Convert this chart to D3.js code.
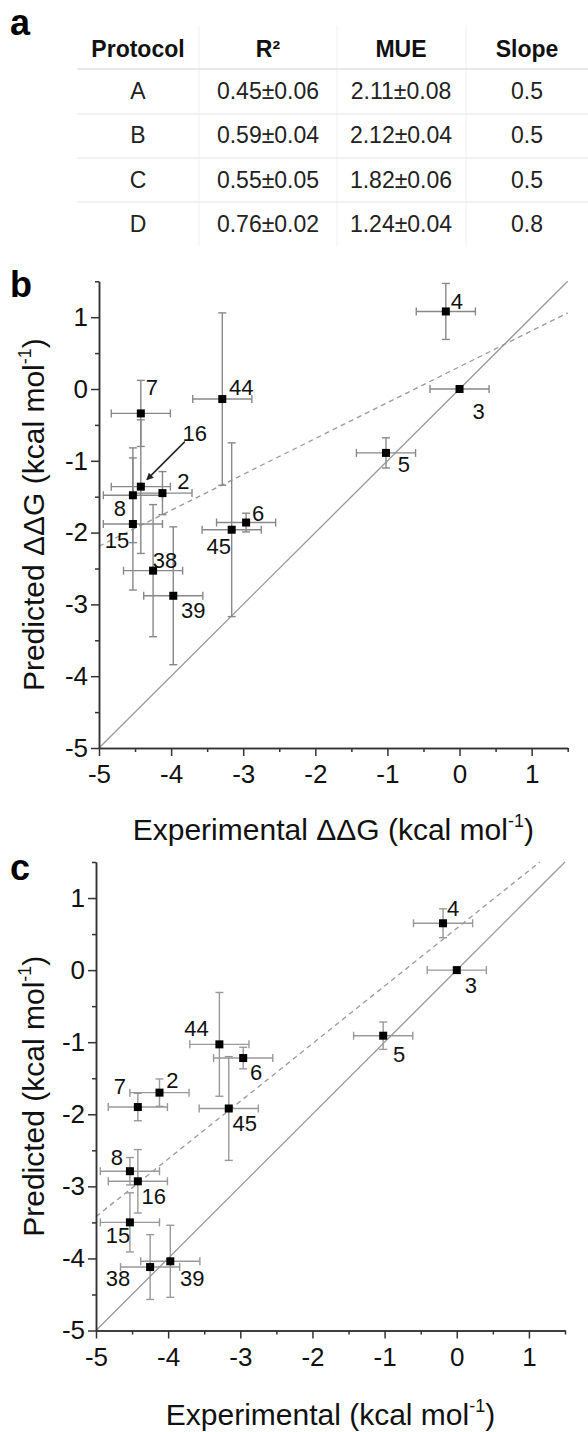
<!DOCTYPE html>
<html>
<head>
<meta charset="utf-8">
<script src="https://cdn.jsdelivr.net/npm/d3@7"></script>
<style>
body { margin: 0; background: #fff; }
svg { display: block; font-family: "Liberation Sans", Arial, sans-serif; }
</style>
</head>
<body>
<svg id="fig"></svg>
<script>
// panel a table
var tableHeaders = ["Protocol", "R²", "MUE", "Slope"];
var protocols = ["A", "B", "C", "D"];
var r2Values = ["0.45±0.06", "0.59±0.04", "0.55±0.05", "0.76±0.02"];
var mueValues = ["2.11±0.08", "2.12±0.04", "1.82±0.06", "1.24±0.04"];
var slopeValues = ["0.5", "0.5", "0.5", "0.8"];

// compounds and experimental ddG (shared by b and c)
var compounds = ["2", "3", "4", "5", "6", "7", "8", "15", "16", "38", "39", "44", "45"];
var expValues = [-4.12, 0.00, -0.19, -1.02, -2.96, -4.42, -4.53, -4.53, -4.42, -4.25, -3.97, -3.29, -3.16];
var expErrors = [0.41, 0.41, 0.41, 0.41, 0.41, 0.41, 0.41, 0.41, 0.41, 0.41, 0.41, 0.41, 0.41];

// predicted, panel b
var predB = [-1.45, 0.00, 1.08, -0.89, -1.86, -0.34, -1.48, -1.88, -1.36, -2.53, -2.88, -0.14, -1.96];
var predBErrors = [0.30, 0, 0.39, 0.21, 0.13, 0.46, 0.66, 0.92, 0.93, 0.92, 0.96, 1.20, 1.21];

// predicted, panel c
var predC = [-1.70, 0.00, 0.65, -0.91, -1.22, -1.90, -2.79, -3.50, -2.93, -4.12, -4.04, -1.03, -1.92];
var predCErrors = [0.19, 0, 0.20, 0.19, 0.15, 0.19, 0.19, 0.41, 0.44, 0.45, 0.50, 0.72, 0.72];

// fitted lines (b, c)
var fitSlopes = [0.5, 0.8];
var fitIntercepts = [0.31, 0.58];

var axisDomain = [-5, 1.5];
var majorTicks = [-5, -4, -3, -2, -1, 0, 1];
var minorTicks = [-4.5, -3.5, -2.5, -1.5, -0.5, 0.5, 1.5];

var width = 588, height = 1432;
var svg = d3.select("#fig").attr("width", width).attr("height", height);

// ---------- a ----------
svg.append("text").attr("x", 10).attr("y", 35)
  .attr("font-size", 36).attr("font-weight", "bold").text("a");

var colEdges = [77, 199, 337, 466, 588];
var colCenters = [138, 268, 401, 527];
var rowLines = [69, 114, 158, 202];
var rows = protocols.map(function(p, i) { return [p, r2Values[i], mueValues[i], slopeValues[i]]; });

var tbl = svg.append("g");
tbl.selectAll("line.v").data(colEdges.slice(1, 4)).enter().append("line")
  .attr("x1", function(d) { return d; }).attr("x2", function(d) { return d; })
  .attr("y1", 25).attr("y2", 247)
  .style("stroke", "#f0f0f0").style("stroke-width", 1);
tbl.selectAll("line.h").data(rowLines).enter().append("line")
  .attr("x1", colEdges[0]).attr("x2", colEdges[4])
  .attr("y1", function(d) { return d; }).attr("y2", function(d) { return d; })
  .style("stroke", function(d, i) { return i == 0 ? "#e2e2e2" : "#eeeeee"; })
  .style("stroke-width", 1.5);
tbl.selectAll("text.hd").data(tableHeaders).enter().append("text")
  .attr("x", function(d, i) { return colCenters[i]; }).attr("y", 57)
  .attr("text-anchor", "middle").attr("font-size", 23).attr("font-weight", "bold")
  .style("fill", "#111").text(function(d) { return d; });
rows.forEach(function(r, ri) {
  tbl.selectAll("text.r" + ri).data(r).enter().append("text")
    .attr("x", function(d, i) { return colCenters[i]; }).attr("y", 99 + ri * 44.3)
    .attr("text-anchor", "middle").attr("font-size", 23)
    .style("fill", "#222").text(function(d) { return d; });
});

// ---------- b & c ----------
function axisTitle(sel, text) {
  sel.append("tspan").text(text);
  sel.append("tspan").attr("font-size", "0.6em").attr("dy", "-0.75em").text("-1");
  sel.append("tspan").attr("dy", "0.45em").text(")");
}

function drawPanel(cfg) {
  var x = d3.scaleLinear().domain(axisDomain).range([cfg.left, cfg.right]);
  var y = d3.scaleLinear().domain(axisDomain).range([cfg.bottom, cfg.top]);
  var g = svg.append("g");

  g.append("text").attr("x", 10).attr("y", cfg.labelY)
    .attr("font-size", 36).attr("font-weight", "bold").text(cfg.label);

  // identity line
  g.append("line")
    .attr("x1", x(-5)).attr("y1", y(-5)).attr("x2", x(1.5)).attr("y2", y(1.5))
    .style("stroke", "#999").style("stroke-width", 1.3);

  // fitted line
  var m = fitSlopes[cfg.idx], b = fitIntercepts[cfg.idx];
  var xEnd = Math.min(1.5, (1.5 - b) / m);
  g.append("line")
    .attr("x1", x(-5)).attr("y1", y(m * -5 + b)).attr("x2", x(xEnd)).attr("y2", y(m * xEnd + b))
    .style("stroke", "#999").style("stroke-width", 1.3).style("stroke-dasharray", "5,4");

  // axes
  var yAxis = g.append("g").attr("transform", "translate(" + cfg.left + ",0)")
    .call(d3.axisLeft(y).tickValues(majorTicks).tickSize(8).tickSizeOuter(0)
      .tickFormat(function(d) { return String(d); }));
  g.append("g").attr("transform", "translate(" + cfg.left + ",0)")
    .call(d3.axisLeft(y).tickValues(minorTicks).tickSize(4).tickSizeOuter(0).tickFormat(""));
  var xAxis = g.append("g").attr("transform", "translate(0," + cfg.bottom + ")")
    .call(d3.axisBottom(x).tickValues(majorTicks).tickSize(8).tickSizeOuter(0)
      .tickFormat(function(d) { return String(d); }));
  g.append("g").attr("transform", "translate(0," + cfg.bottom + ")")
    .call(d3.axisBottom(x).tickValues(minorTicks).tickSize(4).tickSizeOuter(0).tickFormat(""));
  g.selectAll(".domain, .tick line").style("stroke", "#333").style("stroke-width", 1.5);
  yAxis.selectAll("text").attr("font-size", 26).attr("x", -11).style("fill", "#111")
    .style("font-family", "Liberation Sans, Arial, sans-serif");
  xAxis.selectAll("text").attr("font-size", 26).attr("y", 17).style("fill", "#111")
    .style("font-family", "Liberation Sans, Arial, sans-serif");

  // axis titles
  g.append("text").attr("x", (cfg.left + cfg.right) / 2).attr("y", cfg.xTitleY)
    .attr("text-anchor", "middle").attr("font-size", 30).style("fill", "#111")
    .call(axisTitle, cfg.xTitle);
  g.append("text").attr("transform", "translate(44," + (cfg.top + cfg.bottom) / 2 + ") rotate(-90)")
    .attr("text-anchor", "middle").attr("font-size", 30).style("fill", "#111")
    .call(axisTitle, cfg.yTitle);

  var pts = compounds.map(function(c, i) {
    return { id: c, x: expValues[i], xe: expErrors[i], y: cfg.pred[i], ye: cfg.predErr[i] };
  });

  var eb = g.append("g").style("stroke", cfg.barColor).style("stroke-width", 1.4);
  pts.forEach(function(d) {
    eb.append("line").attr("x1", x(d.x - d.xe)).attr("x2", x(d.x + d.xe))
      .attr("y1", y(d.y)).attr("y2", y(d.y));
    [d.x - d.xe, d.x + d.xe].forEach(function(v) {
      eb.append("line").attr("x1", x(v)).attr("x2", x(v))
        .attr("y1", y(d.y) - 4).attr("y2", y(d.y) + 4);
    });
    if (d.ye > 0) {
      eb.append("line").attr("x1", x(d.x)).attr("x2", x(d.x))
        .attr("y1", y(d.y - d.ye)).attr("y2", y(d.y + d.ye));
      [d.y - d.ye, d.y + d.ye].forEach(function(v) {
        eb.append("line").attr("x1", x(d.x) - 4).attr("x2", x(d.x) + 4)
          .attr("y1", y(v)).attr("y2", y(v));
      });
    }
  });

  g.selectAll("rect.pt").data(pts).enter().append("rect")
    .attr("x", function(d) { return x(d.x) - 4; })
    .attr("y", function(d) { return y(d.y) - 4; })
    .attr("width", 8).attr("height", 8)
    .style("fill", "#000");

  g.selectAll("text.lbl").data(pts).enter().append("text")
    .attr("x", function(d) { return x(d.x) + cfg.offsets[d.id][0]; })
    .attr("y", function(d) { return y(d.y) + cfg.offsets[d.id][1]; })
    .attr("dy", ".36em").attr("text-anchor", "middle")
    .attr("font-size", 22).style("fill", "#111")
    .text(function(d) { return d.id; });

  if (cfg.arrow) {
    var a = pts[compounds.indexOf(cfg.arrow.id)];
    g.append("line")
      .attr("x1", x(a.x) + cfg.arrow.from[0]).attr("y1", y(a.y) + cfg.arrow.from[1])
      .attr("x2", x(a.x) + cfg.arrow.to[0]).attr("y2", y(a.y) + cfg.arrow.to[1])
      .style("stroke", "#222").style("stroke-width", 1.5)
      .attr("marker-end", "url(#arrowhead)");
  }
}

svg.append("defs").append("marker")
  .attr("id", "arrowhead").attr("viewBox", "0 0 10 10")
  .attr("refX", 9).attr("refY", 5)
  .attr("markerWidth", 7).attr("markerHeight", 7).attr("markerUnits", "userSpaceOnUse")
  .attr("orient", "auto")
  .append("path").attr("d", "M0,0L10,5L0,10z").style("fill", "#222");

drawPanel({
  idx: 0, label: "b", labelY: 297,
  left: 99, right: 567.7, top: 281.3, bottom: 748, xTitleY: 840,
  xTitle: "Experimental ΔΔG (kcal mol", yTitle: "Predicted ΔΔG (kcal mol",
  pred: predB, predErr: predBErrors, barColor: "#888",
  offsets: {
    "2": [21, -12], "3": [19, 22], "4": [11, -10], "5": [18, 11], "6": [12, -9],
    "7": [11, -26], "8": [-13, 13], "15": [-16, 16], "16": [54, -54], "38": [12, -11],
    "39": [20, 14], "44": [19, -12], "45": [-13, 16]
  },
  arrow: { id: "16", from: [44, -45], to: [6, -7] }
});

drawPanel({
  idx: 1, label: "c", labelY: 880,
  left: 96, right: 565, top: 862, bottom: 1330.5, xTitleY: 1425,
  xTitle: "Experimental (kcal mol", yTitle: "Predicted (kcal mol",
  pred: predC, predErr: predCErrors, barColor: "#999",
  offsets: {
    "2": [13, -13], "3": [14, 15], "4": [10, -15], "5": [16, 18], "6": [13, 14],
    "7": [-18, -21], "8": [-13, -14], "15": [-12, 13], "16": [16, 15], "38": [-32, 11],
    "39": [22, 17], "44": [-23, -16], "45": [16, 15]
  }
});
</script>
</body>
</html>
